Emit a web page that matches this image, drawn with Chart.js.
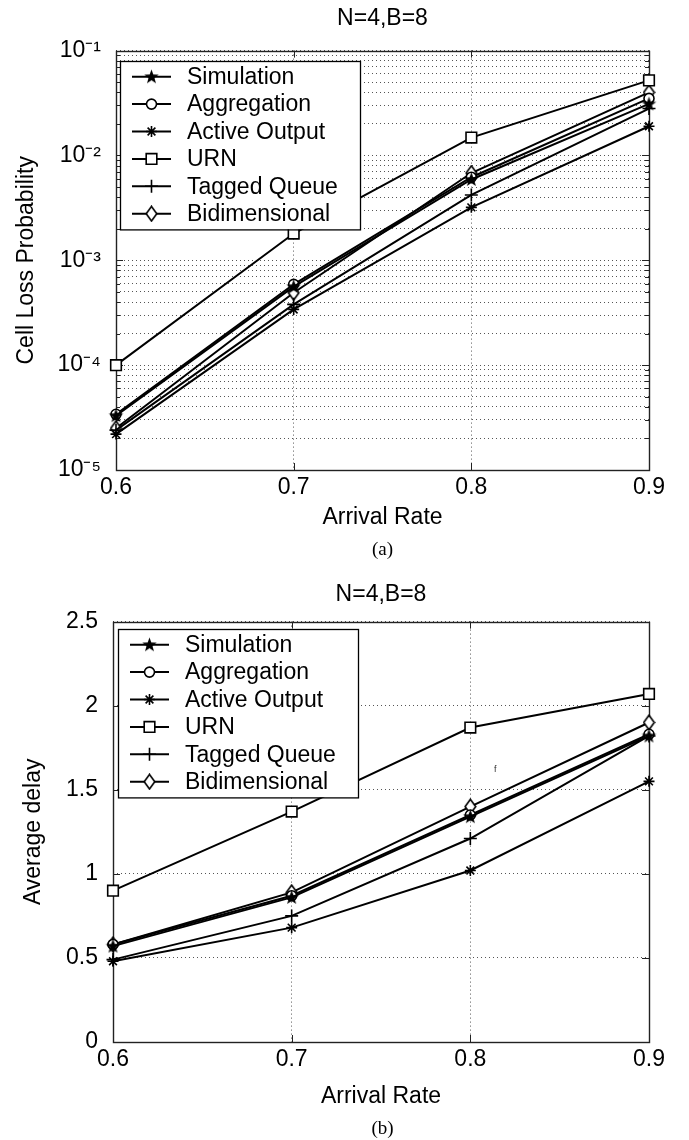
<!DOCTYPE html>
<html>
<head>
<meta charset="utf-8">
<script src="https://cdn.jsdelivr.net/npm/chart.js@4.4.1/dist/chart.umd.min.js"></script>
<style>
  body { margin: 0; background: #fff; width: 689px; height: 1140px; position: relative; overflow: hidden; }
  canvas { position: absolute; left: 0; }
  .cap { position: absolute; left: 116px; width: 533px; text-align: center;
         font-family: "Liberation Serif", "Times New Roman", serif; font-size: 19px; color: #000; }
</style>
</head>
<body>
<canvas id="lossChart" width="689" height="540" style="top:0"></canvas>
<div class="cap" style="top:538px">(a)</div>
<canvas id="delayChart" width="689" height="560" style="top:560px"></canvas>
<div class="cap" style="top:1117px">(b)</div>

<script>
// data
const arrivalRate = [0.6, 0.7, 0.8, 0.9];
const seriesNames = ['Simulation', 'Aggregation', 'Active Output', 'URN', 'Tagged Queue', 'Bidimensional'];

// (a) cell loss probability
const lossSimulation    = [3.3e-5, 5.6e-4, 5.9e-3, 3.1e-2];
const lossAggregation   = [3.4e-5, 5.9e-4, 6.2e-3, 3.5e-2];
const lossActiveOutput  = [2.2e-5, 3.4e-4, 3.2e-3, 1.9e-2];
const lossURN           = [1.0e-4, 1.8e-3, 1.48e-2, 5.2e-2];
const lossTaggedQueue   = [2.4e-5, 3.8e-4, 4.2e-3, 2.8e-2];
const lossBidimensional = [2.5e-5, 4.9e-4, 6.8e-3, 4.0e-2];
const lossTickExponents = [-5, -4, -3, -2, -1];

// (b) average delay
const delaySimulation    = [0.57, 0.86, 1.34, 1.82];
const delayAggregation   = [0.58, 0.87, 1.35, 1.83];
const delayActiveOutput  = [0.48, 0.68, 1.02, 1.55];
const delayURN           = [0.90, 1.37, 1.87, 2.07];
const delayTaggedQueue   = [0.49, 0.75, 1.21, 1.82];
const delayBidimensional = [0.58, 0.89, 1.40, 1.90];

const FONT = '"Liberation Sans", Arial, Helvetica, sans-serif';

function starMarker() {
  const c = document.createElement('canvas');
  c.width = 17; c.height = 17;
  const g = c.getContext('2d');
  g.fillStyle = '#000';
  g.beginPath();
  for (let i = 0; i < 10; i++) {
    const r = i % 2 ? 3.1 : 7.6;
    const a = -Math.PI / 2 + i * Math.PI / 5;
    g.lineTo(8.5 + r * Math.cos(a), 8.8 + r * Math.sin(a));
  }
  g.closePath();
  g.fill();
  return c;
}

function diamondMarker() {
  const c = document.createElement('canvas');
  c.width = 13; c.height = 17;
  const g = c.getContext('2d');
  g.fillStyle = '#fff';
  g.strokeStyle = '#000';
  g.lineWidth = 1.6;
  g.beginPath();
  g.moveTo(6.5, 1.2); g.lineTo(11.8, 8.5); g.lineTo(6.5, 15.8); g.lineTo(1.2, 8.5);
  g.closePath();
  g.fill(); g.stroke();
  return c;
}

const markerStyles = [
  { pointStyle: starMarker(), pointRadius: 6, pointBackgroundColor: '#000' },
  { pointStyle: 'circle', pointRadius: 5, pointBackgroundColor: '#fff' },
  { pointStyle: 'star', pointRadius: 5.5, pointBackgroundColor: '#000' },
  { pointStyle: 'rect', pointRadius: 7.5, pointBackgroundColor: '#fff' },
  { pointStyle: 'cross', pointRadius: 6.5, pointBackgroundColor: '#000' },
  { pointStyle: diamondMarker(), pointRadius: 6, pointBackgroundColor: '#fff' }
];

function makeDatasets(series) {
  return series.map((vals, i) => Object.assign({
    label: seriesNames[i],
    data: arrivalRate.map((x, j) => ({ x: x, y: vals[j] })),
    borderColor: '#000',
    borderWidth: 2,
    pointBorderColor: '#000',
    pointBorderWidth: 1.6,
    clip: false,
    tension: 0
  }, markerStyles[i]));
}

function supExp(n) {
  const map = { '-': '\u207B', '0': '\u2070', '1': '\u00B9', '2': '\u00B2', '3': '\u00B3',
                '4': '\u2074', '5': '\u2075', '6': '\u2076', '7': '\u2077', '8': '\u2078', '9': '\u2079' };
  return String(n).split('').map(ch => map[ch]).join('');
}

// frame + inward tick marks, matlab style
const matlabAxes = {
  id: 'matlabAxes',
  beforeDatasetsDraw(chart) {
    const { ctx, chartArea: a, scales } = chart;
    const x = scales.x, y = scales.y;
    ctx.save();
    ctx.setLineDash([]);
    ctx.strokeStyle = '#222';
    ctx.lineWidth = 1;
    ctx.beginPath();
    x.ticks.forEach(t => {
      const px = Math.round(x.getPixelForValue(t.value)) + 0.5;
      ctx.moveTo(px, a.bottom); ctx.lineTo(px, a.bottom - 7);
      ctx.moveTo(px, a.top); ctx.lineTo(px, a.top + 7);
    });
    y.ticks.forEach(t => {
      const py = Math.round(y.getPixelForValue(t.value)) + 0.5;
      const len = (y.type === 'logarithmic' && !t.major) ? 4 : 7;
      ctx.moveTo(a.left, py); ctx.lineTo(a.left + len, py);
      ctx.moveTo(a.right, py); ctx.lineTo(a.right - len, py);
    });
    ctx.stroke();
    ctx.lineWidth = 1.4;
    ctx.strokeRect(Math.round(a.left) + 0.5, Math.round(a.top) + 0.5,
                   Math.round(a.right - a.left), Math.round(a.bottom - a.top));
    ctx.restore();
  }
};

// boxed legend inside the plot, line + marker samples
const boxLegend = {
  id: 'boxLegend',
  afterDatasetsDraw(chart, args, opts) {
    const ctx = chart.ctx;
    const ds = chart.data.datasets;
    const h = ds.length * opts.rowHeight + opts.padY * 2;
    ctx.save();
    ctx.setLineDash([]);
    ctx.fillStyle = '#fff';
    ctx.fillRect(opts.left, opts.top, opts.width, h);
    ctx.strokeStyle = '#000';
    ctx.lineWidth = 1.3;
    ctx.strokeRect(opts.left + 0.5, opts.top + 0.5, opts.width, h);
    ds.forEach((d, i) => {
      const cy = opts.top + opts.padY + opts.rowHeight * (i + 0.5);
      ctx.strokeStyle = '#000';
      ctx.lineWidth = d.borderWidth;
      ctx.beginPath();
      ctx.moveTo(opts.left + 12, cy); ctx.lineTo(opts.left + 51, cy);
      ctx.stroke();
      ctx.fillStyle = d.pointBackgroundColor;
      ctx.lineWidth = d.pointBorderWidth;
      Chart.helpers.drawPoint(ctx, {
        pointStyle: d.pointStyle, rotation: 0, radius: d.pointRadius, borderWidth: d.pointBorderWidth
      }, opts.left + 31.5, cy);
      ctx.fillStyle = '#000';
      ctx.font = '23px ' + FONT;
      ctx.textAlign = 'left';
      ctx.textBaseline = 'middle';
      ctx.fillText(d.label, opts.left + 67, cy + 1);
    });
    ctx.restore();
  }
};

// the stray little "f" in the delay plot
const strayMark = {
  id: 'strayMark',
  afterDatasetsDraw(chart, args, opts) {
    if (!opts.text) return;
    const ctx = chart.ctx;
    ctx.save();
    ctx.fillStyle = '#333';
    ctx.font = '9px ' + FONT;
    ctx.textAlign = 'center';
    ctx.textBaseline = 'middle';
    ctx.fillText(opts.text, chart.scales.x.getPixelForValue(opts.x), chart.scales.y.getPixelForValue(opts.y));
    ctx.restore();
  }
};

Chart.register(matlabAxes, boxLegend, strayMark);
Chart.defaults.font.family = FONT;
Chart.defaults.color = '#000';

const gridOpts = { color: '#555', lineWidth: 1, drawTicks: false };
const dotted = { display: false, dash: [1, 3] };

function xAxis(height) {
  return {
    type: 'linear', min: 0.6, max: 0.9,
    afterBuildTicks: s => { s.ticks = arrivalRate.map(v => ({ value: v })); },
    afterFit: s => { s.height = height; },
    grid: gridOpts, border: dotted,
    ticks: { font: { size: 23 }, padding: 4, callback: v => v.toFixed(1) },
    title: { display: true, text: 'Arrival Rate', font: { size: 23 }, padding: 0 }
  };
}

function titleOpts(padTop, padBottom) {
  return { display: true, text: 'N=4,B=8', fullSize: false, color: '#000',
           font: { size: 23, weight: 'normal' }, padding: { top: padTop, bottom: padBottom } };
}

new Chart(document.getElementById('lossChart'), {
  type: 'line',
  data: { datasets: makeDatasets([lossSimulation, lossAggregation, lossActiveOutput, lossURN, lossTaggedQueue, lossBidimensional]) },
  options: {
    responsive: false, animation: false,
    layout: { padding: { left: 13, right: 40, top: 0, bottom: 9 } },
    scales: {
      x: xAxis(61),
      y: {
        type: 'logarithmic',
        min: Math.pow(10, lossTickExponents[0]),
        max: Math.pow(10, lossTickExponents[lossTickExponents.length - 1]),
        afterBuildTicks: s => {
          const t = [];
          lossTickExponents.forEach((e, k) => {
            const top = k === lossTickExponents.length - 1 ? 1 : 9;
            for (let m = 1; m <= top; m++) t.push({ value: m * Math.pow(10, e), major: m === 1 });
          });
          s.ticks = t;
        },
        afterFit: s => { s.width = 103; },
        grid: gridOpts, border: dotted,
        ticks: {
          autoSkip: false, font: { size: 23 }, padding: 15,
          callback: v => {
            const e = Math.round(Math.log10(v));
            return Math.abs(Math.log10(v) - e) < 1e-9 ? '10' + supExp(e) : '';
          }
        },
        title: { display: true, text: 'Cell Loss Probability', font: { size: 23 }, padding: 0 }
      }
    },
    plugins: {
      legend: { display: false },
      tooltip: { enabled: false },
      title: titleOpts(5, 18),
      boxLegend: { left: 120, top: 61, width: 240, rowHeight: 27.4, padY: 2 }
    }
  }
});

new Chart(document.getElementById('delayChart'), {
  type: 'line',
  data: { datasets: makeDatasets([delaySimulation, delayAggregation, delayActiveOutput, delayURN, delayTaggedQueue, delayBidimensional]) },
  options: {
    responsive: false, animation: false,
    layout: { padding: { left: 20, right: 40, top: 0, bottom: 10 } },
    scales: {
      x: xAxis(68),
      y: {
        type: 'linear', min: 0, max: 2.5,
        afterFit: s => { s.width = 93; },
        grid: gridOpts, border: dotted,
        ticks: { stepSize: 0.5, font: { size: 23 }, padding: 15, callback: v => String(v) },
        title: { display: true, text: 'Average delay', font: { size: 23 }, padding: 0 }
      }
    },
    plugins: {
      legend: { display: false },
      tooltip: { enabled: false },
      title: titleOpts(21, 13),
      boxLegend: { left: 118, top: 69, width: 240, rowHeight: 27.4, padY: 2 },
      strayMark: { text: 'f', x: 0.814, y: 1.62 }
    }
  }
});
</script>
</body>
</html>
